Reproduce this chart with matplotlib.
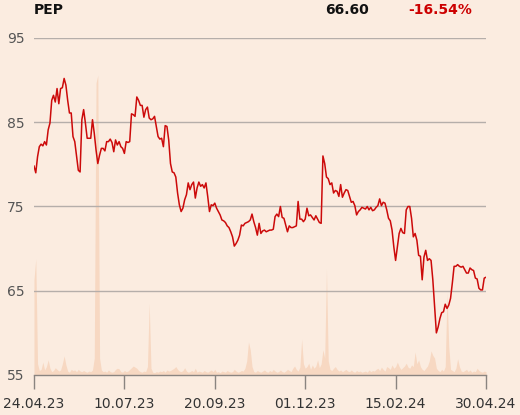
import numpy as np
import matplotlib
matplotlib.use("Agg")
import matplotlib.pyplot as plt

# closing prices, one per trading day 24.04.23 -> 30.04.24
price = [
    79.8, 79.0, 80.9, 82.1, 82.4, 82.2, 82.7, 82.3, 84.1, 84.9,
    87.6, 88.2, 87.4, 89.0, 87.2, 89.0, 89.1, 90.2, 89.4, 87.6,
    86.1, 86.1, 83.3, 82.7, 81.0, 79.3, 79.1, 85.3, 86.5, 84.9,
    83.1, 83.1, 83.1, 85.3, 83.7, 81.7, 80.1, 81.1, 81.9, 81.9,
    81.6, 82.7, 82.7, 83.0, 82.6, 81.5, 82.9, 82.3, 82.7, 82.1,
    81.9, 81.3, 82.7, 82.6, 82.7,
    86.0, 85.9, 85.7, 88.0, 87.6, 87.0, 87.0, 85.6, 86.5, 86.8,
    85.5, 85.3, 85.4, 85.7, 84.5, 83.3, 83.0, 83.1, 82.1, 84.6,
    84.5, 82.9, 80.1, 79.1, 79.0, 78.5, 76.6, 75.2, 74.4, 74.8,
    75.8, 76.4, 77.8, 77.0, 77.6, 77.9, 76.0, 77.2, 77.9, 77.4,
    77.6, 77.2, 77.8, 76.2, 74.4, 75.2, 75.1, 75.4, 74.8, 74.4,
    74.0, 73.4, 73.3,
    73.1, 72.7, 72.5, 72.0, 71.4, 70.3, 70.6, 71.0, 71.6, 72.8,
    72.7, 73.0, 73.1, 73.2, 73.4, 74.1, 73.2, 72.5, 71.6, 73.0,
    71.8, 72.1, 72.2, 72.0, 72.1, 72.2, 72.2, 72.3, 73.8, 74.1,
    73.8, 75.0, 73.7, 73.6, 72.8, 72.0, 72.7, 72.5, 72.5, 72.6,
    72.7, 75.6, 73.5, 73.5, 73.2, 73.5, 74.8, 73.9, 74.0, 73.7,
    73.4, 73.9, 73.5, 73.1,
    73.0, 81.0, 80.1, 78.5, 78.3, 77.6, 77.8, 76.6, 76.9, 76.8,
    76.2, 77.6, 76.1, 76.6, 77.0, 76.9, 76.2, 75.5, 75.6, 75.1,
    74.0, 74.4, 74.6, 74.9, 74.8, 74.7, 75.0, 74.6, 74.9, 74.5,
    74.6, 74.9, 75.1, 75.9, 75.1, 75.5, 75.4, 74.6, 73.6, 73.3,
    72.2, 70.2, 68.6, 70.2, 71.8, 72.4, 71.9, 71.8,
    74.6, 75.0, 75.0, 73.6, 71.4, 71.8, 71.0, 69.2, 69.1, 66.3,
    69.0, 69.8, 68.6, 68.8, 68.6, 66.3, 63.1, 60.0, 60.7, 61.7,
    62.4, 62.5, 63.4, 62.9, 63.3, 64.1, 65.9, 67.9, 67.9, 68.1,
    67.9, 67.8, 67.9, 67.5, 67.1, 67.1, 67.7, 67.5, 67.4, 66.5,
    66.4, 65.3, 65.1, 65.1, 66.5, 66.6,
]

# traded volume (relative units)
volume = [
    17, 20.7, 2.0, 0.8, 1.0, 2.3, 0.9, 1.5, 2.7, 1.2, 0.6, 0.8, 1.3, 1.0, 0.7, 0.9,
    2.0, 3.4, 1.8, 0.7, 0.5, 1.0, 0.8, 0.9, 0.6, 1.0, 0.7, 0.6, 0.8, 0.6, 0.5, 0.7,
    0.6, 0.9, 3.0, 52.0, 53.4, 3.0, 0.9, 0.6, 0.7, 0.5, 0.9, 0.6, 0.5, 0.6, 1.0, 1.2,
    1.1, 0.6, 0.5, 0.8, 0.6, 0.7, 1.0, 1.3, 1.6, 1.4, 1.2, 0.8, 0.6, 0.5, 0.7, 0.6,
    1.5, 12.8, 1.2, 0.5, 0.4, 0.6, 0.5, 0.7, 0.6, 0.8, 0.5, 0.9, 0.7, 0.8, 1.0, 1.2,
    1.5, 1.0, 0.7, 0.6, 0.8, 1.3, 0.7, 0.5, 0.6, 0.8, 0.6, 1.2, 0.5, 0.7, 0.6, 0.5,
    0.8, 0.6, 0.5, 0.7, 0.9, 0.6, 1.0, 0.5, 0.6, 0.4, 0.7, 0.6, 0.5, 0.8, 0.6, 0.5,
    0.6, 1.0, 0.7, 0.5, 0.6, 0.8, 0.7, 1.2, 2.5, 5.9, 4.5, 1.5, 0.6, 0.5, 0.8, 0.6,
    0.5, 0.7, 0.9, 0.6, 0.5, 0.8, 0.6, 1.0, 0.7, 0.5, 0.6, 0.9, 0.6, 0.5, 0.7, 1.0,
    0.8, 0.6, 1.2, 1.6, 1.0, 0.7, 1.4, 6.4, 2.0, 1.2, 1.5, 2.1, 1.0, 1.8, 1.2, 1.6,
    2.7, 1.3, 2.0, 4.5, 3.0, 18.9, 2.5, 1.0, 0.8, 1.2, 1.5, 1.0, 0.7, 0.9, 0.6, 0.8,
    1.0, 0.7, 0.6, 0.9, 0.6, 0.5, 0.8, 0.6, 0.7, 0.5, 0.6, 0.7, 0.5, 0.9, 0.6, 0.8,
    0.7, 1.0, 1.2, 0.8, 1.4, 1.0, 0.7, 1.5, 1.3, 1.0, 1.8, 1.2, 1.5, 2.3, 1.5, 1.0,
    1.3, 1.6, 2.1, 1.4, 1.2, 1.8, 1.5, 4.1, 2.0, 2.7, 1.5, 1.0, 0.8, 1.2, 1.6, 2.5,
    4.3, 3.5, 3.0, 1.2, 0.8, 0.6, 1.0, 0.7, 1.5, 14.6, 5.0, 1.0, 0.8, 0.6, 1.2, 2.9,
    1.5, 0.7, 0.6, 0.8, 1.0, 0.6, 0.9, 0.5, 0.7, 0.6, 1.2, 0.8, 0.6, 0.5, 0.7, 0.6,
]

date_labels = ["24.04.23", "10.07.23", "20.09.23", "01.12.23", "15.02.24", "30.04.24"]
y_ticks = [55, 65, 75, 85, 95]
ticker = "PEP"
last_price = "66.60"
change = "-16.54%"

bg = "#fbece0"
n = len(price)
x = np.arange(n)

fig = plt.figure(figsize=(5.2, 4.15), dpi=100, facecolor=bg)
ax = fig.add_axes([34 / 520, 40 / 415, 452 / 520, 337 / 415])
axv = ax.twinx()
ax.set_zorder(axv.get_zorder() + 1)
ax.patch.set_visible(False)
axv.patch.set_facecolor(bg)

# volume area in the background
axv.fill_between(x, 0, volume, color="#f7d8c2", linewidth=0)
axv.set_ylim(0, 60)
axv.set_xlim(0, n - 1)
axv.axis("off")

ax.plot(x, price, color="#cc0a0a", linewidth=1.1)
ax.set_xlim(0, n - 1)
ax.set_ylim(55, 95)
ax.set_yticks(y_ticks)
ax.set_yticklabels([str(v) for v in y_ticks])
ax.set_xticks(np.linspace(0, n - 1, len(date_labels)))
ax.set_xticklabels(date_labels)

for v in y_ticks[1:]:
    ax.axhline(v, color="#b5aeaa", linewidth=1.0, zorder=0)

for s in ["top", "right", "left"]:
    ax.spines[s].set_visible(False)
ax.spines["bottom"].set_color("#8a8480")
ax.spines["bottom"].set_linewidth(1.0)
ax.tick_params(axis="x", length=10, width=1.0, color="#8a8480", pad=6,
               labelsize=10, labelcolor="#333333")
ax.tick_params(axis="y", length=0, pad=7, labelsize=10, labelcolor="#555555")

fig.text(34 / 520, 1 - 10 / 415, ticker, fontsize=10, fontweight="bold",
         color="#111111", va="center", ha="left")
fig.text(369 / 520, 1 - 10 / 415, last_price, fontsize=10, fontweight="bold",
         color="#111111", va="center", ha="right")
fig.text(472 / 520, 1 - 10 / 415, change, fontsize=10, fontweight="bold",
         color="#cc0000", va="center", ha="right")

fig.savefig("out.png", dpi=100, facecolor=bg)
